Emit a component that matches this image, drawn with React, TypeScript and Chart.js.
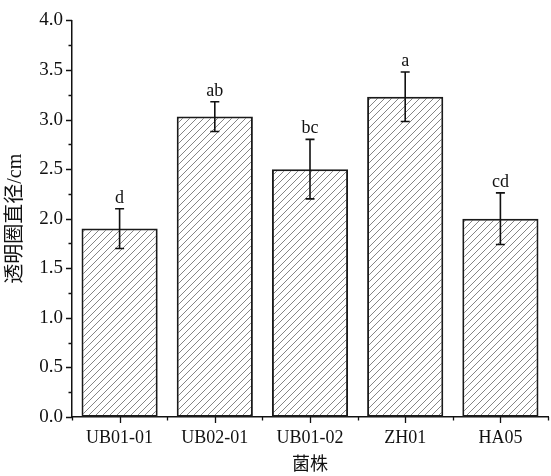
import React, { useEffect, useRef } from "react";
import { Chart, registerables } from "chart.js";

Chart.register(...registerables);

const categories = ["UB01-01", "UB02-01", "UB01-02", "ZH01", "HA05"];
const values = [1.9, 3.03, 2.5, 3.23, 2.0];
const errors = [0.2, 0.15, 0.3, 0.25, 0.26];
const letters = ["d", "ab", "bc", "a", "cd"];
const yTickValues = [0, 0.5, 1.0, 1.5, 2.0, 2.5, 3.0, 3.5, 4.0];

const SERIF = "'Liberation Serif', 'Times New Roman', 'Noto Sans CJK SC', serif";

function makeHatch(): CanvasPattern | string {
  const size = 7;
  const c = document.createElement("canvas");
  c.width = size;
  c.height = size;
  const g = c.getContext("2d");
  if (!g) return "#fff";
  g.fillStyle = "#ffffff";
  g.fillRect(0, 0, size, size);
  g.strokeStyle = "#666";
  g.lineWidth = 0.8;
  g.beginPath();
  g.moveTo(-1, size + 1);
  g.lineTo(size + 1, -1);
  g.moveTo(-1, 1);
  g.lineTo(1, -1);
  g.moveTo(size - 1, size + 1);
  g.lineTo(size + 1, size - 1);
  g.stroke();
  const p = g.createPattern(c, "repeat");
  return p || "#fff";
}

const decorPlugin = {
  id: "decor",
  afterDatasetsDraw(chart: any) {
    const ctx = chart.ctx;
    const x = chart.scales.x;
    const y = chart.scales.y;
    const area = chart.chartArea;
    ctx.save();
    ctx.strokeStyle = "#111";
    ctx.lineWidth = 1.6;
    values.forEach((v, i) => {
      const cx = x.getPixelForValue(i);
      const top = y.getPixelForValue(v + errors[i]);
      const bot = y.getPixelForValue(v - errors[i]);
      ctx.beginPath();
      ctx.moveTo(cx, top);
      ctx.lineTo(cx, bot);
      ctx.moveTo(cx - 4.5, top);
      ctx.lineTo(cx + 4.5, top);
      ctx.moveTo(cx - 4.5, bot);
      ctx.lineTo(cx + 4.5, bot);
      ctx.stroke();
      ctx.fillStyle = "#111";
      ctx.font = "18px " + SERIF;
      ctx.textAlign = "center";
      ctx.textBaseline = "alphabetic";
      ctx.fillText(letters[i], cx, top - 6);
    });
    ctx.lineWidth = 1.3;
    ctx.beginPath();
    for (let k = 0; k < yTickValues.length; k++) {
      const py = Math.round(y.getPixelForValue(yTickValues[k])) + 0.5;
      ctx.moveTo(area.left - 6, py);
      ctx.lineTo(area.left, py);
      if (k < yTickValues.length - 1) {
        const my = Math.round(y.getPixelForValue((yTickValues[k] + yTickValues[k + 1]) / 2)) + 0.5;
        ctx.moveTo(area.left - 3.5, my);
        ctx.lineTo(area.left, my);
      }
    }
    for (let i = 0; i < categories.length; i++) {
      const cx = Math.round(x.getPixelForValue(i)) + 0.5;
      ctx.moveTo(cx, area.bottom);
      ctx.lineTo(cx, area.bottom + 6);
    }
    for (let i = 0; i <= categories.length; i++) {
      const bx = Math.round(x.getPixelForValue(i - 0.5)) + 0.5;
      ctx.moveTo(bx, area.bottom);
      ctx.lineTo(bx, area.bottom + 3.5);
    }
    ctx.stroke();
    ctx.restore();
  },
};

export default function App() {
  const ref = useRef<HTMLCanvasElement | null>(null);
  useEffect(() => {
    if (!ref.current) return;
    const hatch = makeHatch();
    const chart = new Chart(ref.current, {
      type: "bar",
      data: {
        labels: categories,
        datasets: [
          {
            data: values,
            backgroundColor: hatch as any,
            borderColor: "#1a1a1a",
            borderWidth: 2,
            borderSkipped: false,
            barPercentage: 0.8,
            categoryPercentage: 1.0,
          },
        ],
      },
      options: {
        responsive: false,
        animation: false,
        layout: { padding: { top: 16, right: 3, left: 0, bottom: 0 } },
        plugins: {
          legend: { display: false },
          tooltip: { enabled: false },
        },
        scales: {
          x: {
            offset: true,
            grid: { display: false, drawTicks: false },
            border: { display: true, color: "#111", width: 1.5 },
            ticks: {
              color: "#111",
              padding: 10,
              font: { family: SERIF, size: 18 },
              maxRotation: 0,
            },
            title: {
              display: true,
              text: "菌株",
              color: "#111",
              font: { family: SERIF, size: 18 },
              padding: { top: 0, bottom: 0 },
            },
            afterFit: (s: any) => {
              s.height = 59;
            },
          },
          y: {
            min: 0,
            max: 4,
            grid: { display: false, drawTicks: false },
            border: { display: true, color: "#111", width: 1.5 },
            ticks: {
              stepSize: 0.5,
              color: "#111",
              padding: 9,
              font: { family: SERIF, size: 19 },
              callback: (v: any) => Number(v).toFixed(1),
            },
            title: {
              display: true,
              text: "透明圈直径/cm",
              color: "#111",
              font: { family: SERIF, size: 20 },
              padding: { top: 4, bottom: 0 },
            },
            afterFit: (s: any) => {
              s.width = 72;
            },
          },
        },
      },
      plugins: [decorPlugin],
    });
    return () => chart.destroy();
  }, []);
  return (
    <div style={{ position: "absolute", left: 0, top: 0, width: 551, height: 476, background: "#fff" }}>
      <canvas ref={ref} width={551} height={476} />
    </div>
  );
}
